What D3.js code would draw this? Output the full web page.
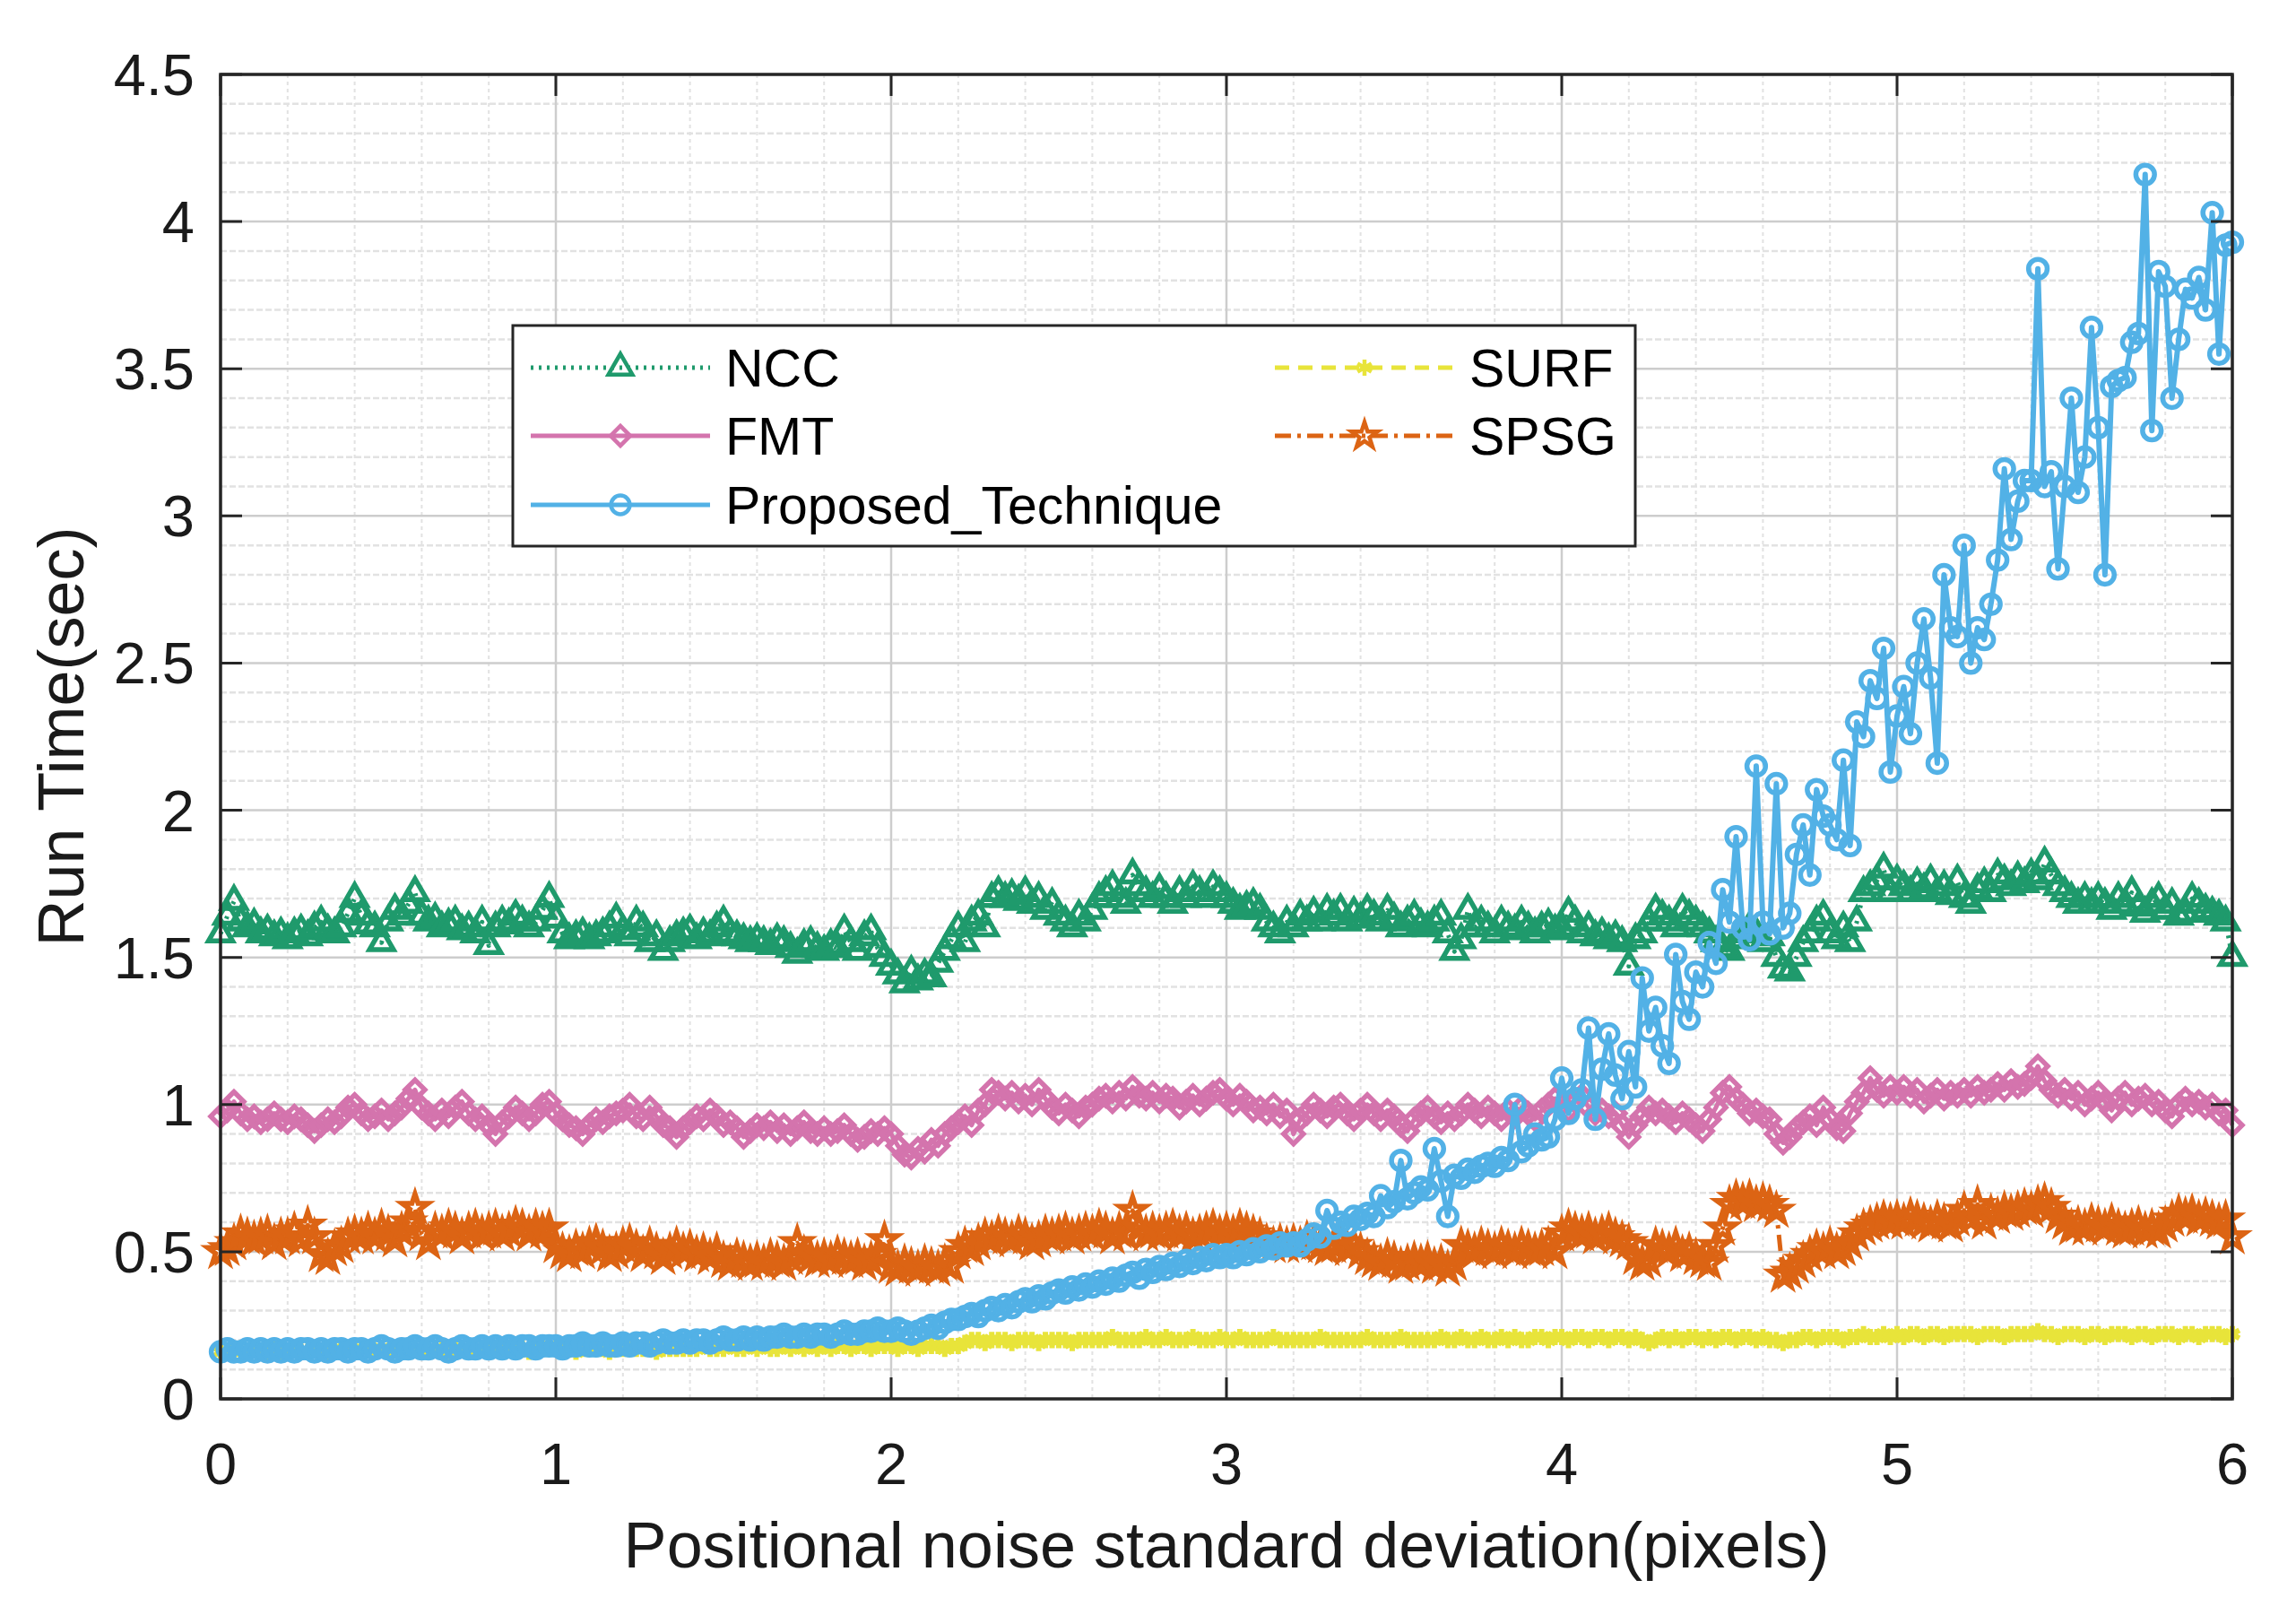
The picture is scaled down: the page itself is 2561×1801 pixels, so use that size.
<!DOCTYPE html>
<html><head><meta charset="utf-8">
<script src="https://cdn.jsdelivr.net/npm/d3@7"></script>
<style>body{margin:0;background:#fff}</style>
</head><body><svg id="c" width="2561" height="1801"></svg>
<script>
// ---------------- DATA ----------------
const noiseStep = 0.02; // x = index * step, 0 .. 6
const xTicks = [0, 1, 2, 3, 4, 5, 6];
const xTickLabels = ["0", "1", "2", "3", "4", "5", "6"];
const yTicks = [0, 0.5, 1, 1.5, 2, 2.5, 3, 3.5, 4, 4.5];
const yTickLabels = ["0", "0.5", "1", "1.5", "2", "2.5", "3", "3.5", "4", "4.5"];
const seriesNames = ["NCC", "FMT", "Proposed_Technique", "SURF", "SPSG"];
const xLabel = "Positional noise standard deviation(pixels)";
const yLabel = "Run Time(sec)";

const ncc = [
1.58,1.64,1.69,1.62,1.60,1.61,1.58,1.59,1.57,1.58,
1.56,1.58,1.59,1.57,1.60,1.62,1.59,1.58,1.60,1.65,
1.70,1.64,1.61,1.60,1.55,1.62,1.66,1.64,1.68,1.72,
1.64,1.62,1.63,1.60,1.61,1.62,1.59,1.60,1.58,1.62,
1.54,1.60,1.62,1.61,1.64,1.62,1.60,1.62,1.66,1.70,
1.63,1.58,1.56,1.57,1.58,1.56,1.57,1.58,1.60,1.63,
1.59,1.57,1.62,1.60,1.55,1.57,1.52,1.55,1.57,1.58,
1.59,1.56,1.58,1.57,1.60,1.62,1.58,1.57,1.56,1.55,
1.56,1.55,1.54,1.56,1.55,1.53,1.51,1.54,1.55,1.53,
1.52,1.54,1.53,1.59,1.55,1.52,1.57,1.59,1.53,1.50,
1.47,1.44,1.41,1.45,1.42,1.44,1.43,1.48,1.52,1.56,
1.60,1.55,1.62,1.64,1.60,1.70,1.72,1.70,1.71,1.69,
1.72,1.68,1.70,1.66,1.68,1.64,1.62,1.60,1.64,1.62,
1.66,1.70,1.72,1.74,1.70,1.68,1.78,1.74,1.72,1.70,
1.73,1.70,1.68,1.72,1.70,1.74,1.72,1.70,1.74,1.72,
1.70,1.68,1.66,1.67,1.68,1.66,1.62,1.60,1.58,1.62,
1.60,1.64,1.62,1.65,1.62,1.66,1.64,1.66,1.62,1.65,
1.63,1.66,1.64,1.62,1.66,1.63,1.60,1.62,1.64,1.61,
1.60,1.62,1.64,1.58,1.52,1.56,1.66,1.60,1.62,1.60,
1.58,1.62,1.60,1.59,1.62,1.60,1.58,1.60,1.61,1.59,
1.60,1.65,1.62,1.58,1.60,1.57,1.58,1.56,1.57,1.55,
1.47,1.56,1.58,1.62,1.66,1.64,1.62,1.60,1.66,1.64,
1.62,1.60,1.58,1.55,1.53,1.52,1.56,1.58,1.60,1.58,
1.55,1.57,1.50,1.46,1.45,1.50,1.55,1.58,1.62,1.64,
1.58,1.56,1.60,1.55,1.62,1.72,1.74,1.76,1.80,1.72,
1.76,1.74,1.72,1.75,1.73,1.76,1.72,1.74,1.71,1.76,
1.70,1.68,1.73,1.75,1.72,1.78,1.76,1.74,1.77,1.75,
1.78,1.76,1.82,1.78,1.74,1.72,1.70,1.68,1.70,1.68,
1.70,1.68,1.66,1.70,1.68,1.72,1.67,1.65,1.68,1.70,
1.66,1.68,1.64,1.65,1.70,1.68,1.66,1.65,1.64,1.62,
1.50];

const fmt = [
0.96,0.98,1.01,0.97,0.95,0.96,0.94,0.95,0.97,0.95,
0.94,0.96,0.95,0.93,0.91,0.93,0.95,0.94,0.96,0.99,
1.00,0.97,0.95,0.96,0.98,0.95,0.97,0.99,1.02,1.05,
0.99,0.97,0.95,0.98,0.96,0.99,1.01,0.97,0.95,0.96,
0.93,0.90,0.94,0.96,0.99,0.97,0.95,0.97,1.00,1.01,
0.97,0.95,0.93,0.92,0.90,0.93,0.95,0.94,0.96,0.97,
0.98,1.00,0.96,0.95,0.99,0.96,0.93,0.92,0.89,0.92,
0.94,0.96,0.95,0.98,0.96,0.93,0.94,0.92,0.89,0.91,
0.93,0.92,0.94,0.91,0.93,0.90,0.92,0.94,0.91,0.90,
0.92,0.90,0.91,0.93,0.90,0.88,0.89,0.91,0.90,0.92,
0.90,0.86,0.83,0.82,0.85,0.84,0.88,0.86,0.90,0.92,
0.94,0.96,0.93,0.98,1.00,1.05,1.04,1.02,1.04,1.01,
1.03,1.00,1.05,1.02,0.99,0.97,1.00,0.98,0.96,0.99,
1.00,1.02,1.03,1.01,1.04,1.02,1.06,1.03,1.02,1.04,
1.01,1.03,1.02,0.99,1.01,1.03,1.00,1.02,1.04,1.05,
1.02,1.00,1.03,1.01,0.98,0.99,0.97,1.00,0.96,0.98,
0.90,0.95,0.97,1.00,0.98,0.96,0.99,1.00,0.97,0.95,
0.98,1.00,0.97,0.95,0.98,0.96,0.93,0.91,0.95,0.97,
0.99,0.96,0.94,0.97,0.95,0.97,1.00,0.98,0.96,0.99,
0.97,0.95,0.98,0.96,0.99,0.97,0.95,0.98,1.00,1.02,
1.00,0.98,1.01,1.03,0.99,0.97,0.98,0.96,0.97,0.93,
0.89,0.93,0.96,0.99,0.97,0.98,0.96,0.94,0.97,0.95,
0.93,0.91,0.95,0.99,1.04,1.06,1.02,1.00,0.97,0.98,
0.96,0.95,0.90,0.87,0.89,0.92,0.94,0.96,0.93,0.99,
0.95,0.92,0.91,0.97,1.01,1.04,1.09,1.05,1.03,1.06,
1.04,1.06,1.03,1.05,1.01,1.03,1.05,1.02,1.04,1.03,
1.05,1.03,1.06,1.04,1.05,1.07,1.05,1.08,1.06,1.07,
1.09,1.13,1.08,1.05,1.03,1.05,1.02,1.04,1.00,1.02,
1.04,1.01,0.98,1.02,1.04,1.00,1.02,1.03,1.00,1.01,
0.98,0.96,1.00,1.02,1.00,1.01,0.99,1.00,0.97,0.98,
0.93];

const proposed = [
0.16,0.17,0.16,0.16,0.17,0.16,0.17,0.16,0.17,0.16,
0.17,0.16,0.17,0.17,0.16,0.17,0.16,0.17,0.17,0.16,
0.17,0.17,0.16,0.17,0.18,0.17,0.16,0.17,0.17,0.18,
0.17,0.17,0.18,0.17,0.16,0.17,0.18,0.17,0.17,0.18,
0.17,0.18,0.17,0.18,0.17,0.18,0.18,0.17,0.18,0.18,
0.18,0.17,0.18,0.18,0.19,0.18,0.18,0.19,0.18,0.18,
0.19,0.18,0.19,0.19,0.18,0.19,0.20,0.19,0.19,0.20,
0.19,0.20,0.20,0.19,0.20,0.21,0.20,0.20,0.21,0.20,
0.21,0.20,0.21,0.21,0.22,0.21,0.21,0.22,0.21,0.22,
0.22,0.21,0.22,0.23,0.22,0.22,0.23,0.23,0.24,0.23,
0.23,0.24,0.23,0.22,0.23,0.24,0.25,0.24,0.26,0.27,
0.27,0.28,0.29,0.28,0.30,0.31,0.30,0.32,0.31,0.33,
0.34,0.33,0.35,0.34,0.36,0.37,0.36,0.38,0.37,0.39,
0.38,0.40,0.39,0.41,0.40,0.42,0.43,0.41,0.44,0.43,
0.45,0.44,0.46,0.45,0.47,0.46,0.48,0.47,0.49,0.48,
0.49,0.48,0.50,0.49,0.51,0.50,0.52,0.51,0.53,0.52,
0.53,0.52,0.54,0.56,0.55,0.64,0.58,0.60,0.59,0.62,
0.61,0.63,0.62,0.69,0.65,0.67,0.81,0.68,0.70,0.72,
0.71,0.85,0.74,0.62,0.76,0.75,0.78,0.77,0.79,0.80,
0.79,0.82,0.81,1.00,0.84,0.86,0.90,0.88,0.89,0.95,
1.09,0.97,1.02,1.05,1.26,0.95,1.12,1.24,1.10,1.02,
1.18,1.06,1.43,1.25,1.33,1.20,1.14,1.51,1.35,1.29,
1.45,1.40,1.55,1.48,1.73,1.62,1.91,1.60,1.56,2.15,
1.62,1.58,2.09,1.60,1.65,1.85,1.95,1.78,2.07,1.98,
1.95,1.90,2.17,1.88,2.30,2.25,2.44,2.38,2.55,2.13,
2.32,2.42,2.26,2.50,2.65,2.45,2.16,2.80,2.62,2.59,
2.90,2.50,2.62,2.58,2.70,2.85,3.16,2.92,3.05,3.12,
3.12,3.84,3.10,3.15,2.82,3.10,3.40,3.08,3.20,3.64,
3.30,2.80,3.44,3.46,3.47,3.59,3.62,4.16,3.29,3.83,
3.78,3.40,3.60,3.77,3.74,3.81,3.70,4.03,3.55,3.92,
3.93];

const surf = [
0.16,0.16,0.17,0.16,0.16,0.17,0.16,0.16,0.17,0.16,
0.16,0.17,0.16,0.16,0.17,0.16,0.16,0.17,0.16,0.17,
0.16,0.17,0.17,0.16,0.17,0.16,0.17,0.17,0.16,0.17,
0.17,0.16,0.17,0.17,0.16,0.17,0.17,0.16,0.17,0.17,
0.17,0.17,0.16,0.17,0.17,0.17,0.16,0.17,0.17,0.17,
0.17,0.17,0.17,0.16,0.17,0.17,0.17,0.17,0.16,0.17,
0.17,0.17,0.17,0.17,0.17,0.16,0.17,0.17,0.17,0.17,
0.17,0.17,0.18,0.17,0.17,0.17,0.18,0.17,0.17,0.18,
0.17,0.18,0.17,0.17,0.18,0.17,0.18,0.17,0.18,0.17,
0.18,0.17,0.18,0.18,0.17,0.18,0.18,0.17,0.18,0.18,
0.18,0.17,0.18,0.18,0.17,0.18,0.18,0.18,0.17,0.18,
0.18,0.19,0.20,0.20,0.19,0.20,0.20,0.20,0.19,0.20,
0.20,0.20,0.19,0.20,0.20,0.20,0.20,0.19,0.20,0.20,
0.20,0.20,0.20,0.21,0.20,0.20,0.20,0.20,0.21,0.20,
0.20,0.21,0.20,0.20,0.20,0.21,0.20,0.20,0.20,0.21,
0.20,0.20,0.21,0.20,0.20,0.20,0.20,0.21,0.20,0.20,
0.20,0.20,0.20,0.20,0.21,0.20,0.20,0.20,0.20,0.20,
0.20,0.21,0.20,0.20,0.20,0.20,0.21,0.20,0.20,0.20,
0.20,0.20,0.21,0.20,0.20,0.21,0.20,0.20,0.21,0.20,
0.20,0.21,0.20,0.21,0.20,0.20,0.21,0.21,0.20,0.21,
0.21,0.20,0.21,0.21,0.20,0.21,0.21,0.20,0.21,0.21,
0.20,0.21,0.20,0.19,0.20,0.21,0.20,0.21,0.20,0.21,
0.21,0.20,0.21,0.20,0.21,0.21,0.20,0.21,0.21,0.20,
0.21,0.20,0.20,0.19,0.20,0.20,0.21,0.21,0.20,0.21,
0.21,0.21,0.20,0.21,0.21,0.22,0.21,0.21,0.22,0.21,
0.22,0.21,0.22,0.22,0.21,0.22,0.22,0.21,0.22,0.22,
0.22,0.22,0.21,0.22,0.22,0.22,0.21,0.22,0.22,0.22,
0.22,0.23,0.22,0.22,0.21,0.22,0.22,0.22,0.21,0.22,
0.22,0.21,0.22,0.22,0.22,0.21,0.22,0.22,0.21,0.22,
0.22,0.22,0.21,0.22,0.22,0.21,0.22,0.22,0.22,0.21,
0.22];

const spsg = [
0.50,0.51,0.53,0.56,0.55,0.54,0.55,0.56,0.53,0.55,
0.55,0.57,0.54,0.59,0.55,0.49,0.48,0.51,0.52,0.55,
0.56,0.55,0.57,0.55,0.58,0.56,0.54,0.57,0.60,0.65,
0.56,0.53,0.57,0.56,0.58,0.57,0.55,0.57,0.58,0.56,
0.57,0.58,0.56,0.57,0.59,0.58,0.56,0.58,0.57,0.58,
0.52,0.50,0.49,0.51,0.50,0.52,0.53,0.51,0.49,0.50,
0.52,0.53,0.51,0.49,0.52,0.50,0.48,0.50,0.52,0.50,
0.51,0.49,0.50,0.48,0.50,0.47,0.46,0.48,0.47,0.46,
0.47,0.46,0.48,0.47,0.46,0.48,0.53,0.49,0.48,0.47,
0.48,0.47,0.49,0.48,0.47,0.48,0.46,0.47,0.49,0.54,
0.45,0.44,0.46,0.45,0.44,0.46,0.45,0.44,0.46,0.45,
0.50,0.52,0.51,0.53,0.55,0.54,0.56,0.55,0.54,0.56,
0.55,0.53,0.54,0.56,0.55,0.56,0.57,0.55,0.56,0.57,
0.56,0.58,0.57,0.55,0.57,0.56,0.64,0.58,0.56,0.57,
0.56,0.57,0.58,0.56,0.57,0.55,0.56,0.57,0.58,0.56,
0.57,0.56,0.58,0.57,0.56,0.55,0.53,0.52,0.53,0.52,
0.53,0.52,0.54,0.53,0.52,0.51,0.52,0.53,0.51,0.52,
0.50,0.48,0.47,0.46,0.48,0.47,0.45,0.46,0.47,0.46,
0.47,0.45,0.46,0.44,0.46,0.52,0.51,0.50,0.52,0.51,
0.50,0.52,0.51,0.50,0.52,0.51,0.50,0.51,0.52,0.50,
0.56,0.58,0.57,0.56,0.57,0.55,0.56,0.57,0.55,0.54,
0.53,0.48,0.46,0.47,0.52,0.51,0.50,0.52,0.49,0.50,
0.48,0.47,0.46,0.52,0.58,0.66,0.68,0.67,0.68,0.66,
0.67,0.66,0.64,0.42,0.43,0.45,0.47,0.49,0.51,0.50,
0.52,0.50,0.51,0.53,0.56,0.58,0.59,0.60,0.61,0.60,
0.61,0.60,0.62,0.61,0.60,0.59,0.61,0.60,0.59,0.61,
0.64,0.61,0.66,0.60,0.63,0.62,0.64,0.63,0.64,0.65,
0.64,0.66,0.67,0.65,0.62,0.60,0.58,0.59,0.58,0.60,
0.59,0.58,0.60,0.58,0.57,0.58,0.59,0.57,0.58,0.57,
0.59,0.61,0.63,0.62,0.63,0.61,0.62,0.61,0.60,0.61,
0.55];

// ---------------- LAYOUT ----------------
const W = 2561, H = 1801;
const P = {l: 246, r: 2490, t: 83, b: 1560};
const FONT = "'Liberation Sans', Arial, Helvetica, sans-serif";
const tickFont = 65, labelFont = 72, legendFont = 59;

const svg = d3.select("#c");
svg.append("rect").attr("width", W).attr("height", H).attr("fill", "#fff");

const x = d3.scaleLinear().domain([0, 6]).range([P.l, P.r]);
const y = d3.scaleLinear().domain([0, 4.5]).range([P.b, P.t]);

// grid
const g = svg.append("g");
const xMinor = d3.range(0, 6.0001, 0.2).filter(v => Math.abs(v - Math.round(v)) > 1e-6);
const yMinor = d3.range(0, 4.5001, 0.1).filter(v => Math.abs(v * 2 - Math.round(v * 2)) > 1e-6);
g.selectAll(".xm").data(xMinor).join("line")
  .attr("x1", d => x(d)).attr("x2", d => x(d)).attr("y1", P.t).attr("y2", P.b)
  .attr("stroke", "#e2e2e2").attr("stroke-width", 2).attr("stroke-dasharray", "4,4");
g.selectAll(".ym").data(yMinor).join("line")
  .attr("x1", P.l).attr("x2", P.r).attr("y1", d => y(d)).attr("y2", d => y(d))
  .attr("stroke", "#e2e2e2").attr("stroke-width", 2.5).attr("stroke-dasharray", "7,3");
g.selectAll(".xg").data(xTicks).join("line")
  .attr("x1", d => x(d)).attr("x2", d => x(d)).attr("y1", P.t).attr("y2", P.b)
  .attr("stroke", "#cdcdcd").attr("stroke-width", 2.5);
g.selectAll(".yg").data(yTicks).join("line")
  .attr("x1", P.l).attr("x2", P.r).attr("y1", d => y(d)).attr("y2", d => y(d))
  .attr("stroke", "#cdcdcd").attr("stroke-width", 2.5);

// series
const symTri = d3.symbol().type(d3.symbolTriangle).size(310)();
const symDiamond = d3.symbol().type(d3.symbolSquare).size(240)();
const symCircle = d3.symbol().type(d3.symbolCircle).size(340)();
const symStar = d3.symbol().type(d3.symbolStar).size(260)();
const symAst = d3.symbol().type(d3.symbolAsterisk).size(230)();

const styles = {
  NCC: {data: ncc, color: "#1f9a6c", dash: "3,6", sym: symTri, rot: 0, lw: 5, mw: 5.5},
  FMT: {data: fmt, color: "#d474ad", dash: null, sym: symDiamond, rot: 45, lw: 5, mw: 5.5},
  Proposed_Technique: {data: proposed, color: "#52b1e6", dash: null, sym: symCircle, rot: 0, lw: 6, mw: 5.5},
  SURF: {data: surf, color: "#e8e43a", dash: "16,10", sym: symAst, rot: 0, lw: 7, mw: 6},
  SPSG: {data: spsg, color: "#dc6414", dash: "18,7,4,7", sym: symStar, rot: 0, lw: 5, mw: 5.5}
};
const drawOrder = ["SURF", "SPSG", "NCC", "FMT", "Proposed_Technique"];

const line = d3.line().x((d, i) => x(i * noiseStep)).y(d => y(d));
const sg = svg.append("g");
drawOrder.forEach(name => {
  const s = styles[name];
  const gg = sg.append("g");
  gg.append("path").datum(s.data).attr("d", line).attr("fill", "none")
    .attr("stroke", s.color).attr("stroke-width", s.lw)
    .attr("stroke-dasharray", s.dash).attr("stroke-linejoin", "round");
  gg.selectAll("path.m").data(s.data).join("path").attr("class", "m")
    .attr("d", s.sym)
    .attr("transform", (d, i) => `translate(${x(i * noiseStep)},${y(d)}) rotate(${s.rot})`)
    .attr("fill", "none").attr("stroke", s.color).attr("stroke-width", s.mw);
});

// axes frame and ticks
const ax = svg.append("g");
const tickLen = 24;
ax.selectAll(".xt").data(xTicks).join("path")
  .attr("d", d => `M${x(d)},${P.b}v${-tickLen}M${x(d)},${P.t}v${tickLen}`)
  .attr("stroke", "#262626").attr("stroke-width", 3);
ax.selectAll(".yt").data(yTicks).join("path")
  .attr("d", d => `M${P.l},${y(d)}h${tickLen}M${P.r},${y(d)}h${-tickLen}`)
  .attr("stroke", "#262626").attr("stroke-width", 3);
ax.append("rect").attr("x", P.l).attr("y", P.t).attr("width", P.r - P.l).attr("height", P.b - P.t)
  .attr("fill", "none").attr("stroke", "#262626").attr("stroke-width", 3.5);

ax.selectAll(".xl").data(xTicks).join("text")
  .attr("x", d => x(d)).attr("y", 1655).attr("text-anchor", "middle")
  .attr("font-family", FONT).attr("font-size", tickFont).attr("fill", "#1a1a1a")
  .text((d, i) => xTickLabels[i]);
ax.selectAll(".yl").data(yTicks).join("text")
  .attr("x", 217).attr("y", d => y(d) + 23).attr("text-anchor", "end")
  .attr("font-family", FONT).attr("font-size", tickFont).attr("fill", "#1a1a1a")
  .text((d, i) => yTickLabels[i]);

svg.append("text").attr("x", (P.l + P.r) / 2).attr("y", 1748).attr("text-anchor", "middle")
  .attr("font-family", FONT).attr("font-size", labelFont).attr("fill", "#1a1a1a").text(xLabel);
svg.append("text").attr("transform", `translate(93,${(P.t + P.b) / 2}) rotate(-90)`)
  .attr("text-anchor", "middle")
  .attr("font-family", FONT).attr("font-size", labelFont).attr("fill", "#1a1a1a").text(yLabel);

// legend
const L = {x: 572, y: 363, w: 1252, h: 246};
const lg = svg.append("g");
lg.append("rect").attr("x", L.x).attr("y", L.y).attr("width", L.w).attr("height", L.h)
  .attr("fill", "#fff").attr("stroke", "#262626").attr("stroke-width", 3);
const legendPos = [
  {name: "NCC", col: 0, row: 0}, {name: "FMT", col: 0, row: 1}, {name: "Proposed_Technique", col: 0, row: 2},
  {name: "SURF", col: 1, row: 0}, {name: "SPSG", col: 1, row: 1}
];
const colX = [L.x + 20, L.x + 850];
const rowY = [L.y + 47, L.y + 123, L.y + 200];
legendPos.forEach(p => {
  const s = styles[p.name];
  const x0 = colX[p.col], yy = rowY[p.row], len = 200;
  lg.append("line").attr("x1", x0).attr("x2", x0 + len).attr("y1", yy).attr("y2", yy)
    .attr("stroke", s.color).attr("stroke-width", 5).attr("stroke-dasharray", s.dash);
  lg.append("path").attr("d", s.sym)
    .attr("transform", `translate(${x0 + len / 2},${yy}) rotate(${s.rot})`)
    .attr("fill", "none").attr("stroke", s.color).attr("stroke-width", 4.5);
  lg.append("text").attr("x", x0 + len + 17).attr("y", yy + 21)
    .attr("font-family", FONT).attr("font-size", legendFont).attr("fill", "#000").text(p.name);
});
</script>
</body></html>
